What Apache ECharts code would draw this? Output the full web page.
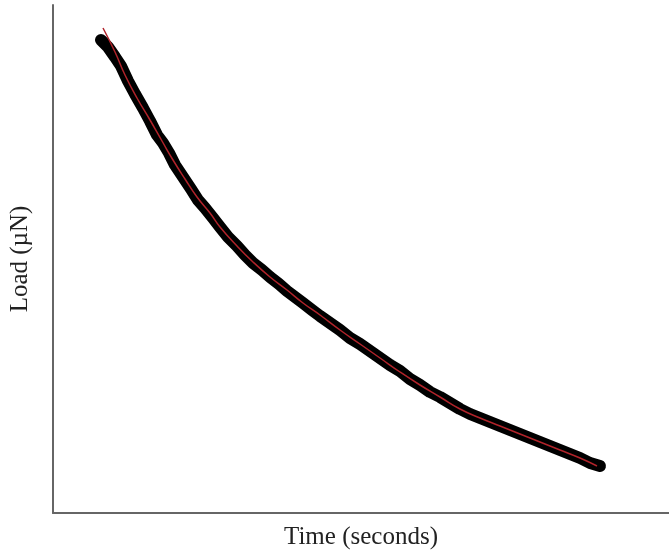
<!DOCTYPE html>
<html>
<head>
<meta charset="utf-8">
<script src="https://cdn.jsdelivr.net/npm/echarts@6/dist/echarts.min.js"></script>
<style>html,body{margin:0;padding:0;background:#fff;}#c{width:669px;height:553px;}</style>
</head>
<body>
<div id="c"></div>
<script>
// Arbitrary units (no ticks shown on the original axes)
const xLabel = 'Time (seconds)';
const yLabel = 'Load (µN)';

const measuredTime = [48,55,62,68,75,82,90,97,104,110,116,122,130,138,145,152,160,167,175,184,192,200,209,217,226,234,242,250,259,267,277,287,297,307,317,327,337,347,357,367,377,387,397,407,417,427,437,447,457,467,477,487,497,507,517,527,537,547];
const measuredLoad = [473,466,456,447,432,419,405,392,378,370,360,348,336,324,313,305,295,286,276,267,258,250,243,236,229,222,216,210,203,197,190,183,175,169,162,155,148,142,134,128,121,116,110,104,99,95,91,87,83,79,75,71,67,63,59,55,50,47];

// Fitted curve (red)
const fitTime = [50,62,72,84,97,109,120,132,144,157,167,184,200,217,234,250,267,287,307,327,347,367,387,407,427,447,467,487,507,527,544];
const fitLoad = [485,461,438,415,393,372,353,334,316,300,286,267,251,236,223,210,198,183,169,155,141,128,116,104,95,87,79,71,63,55,47];

const measured = measuredTime.map((t, i) => [t, measuredLoad[i]]);
const fit = fitTime.map((t, i) => [t, fitLoad[i]]);

const chart = echarts.init(document.getElementById('c'));
chart.setOption({
  animation: false,
  backgroundColor: '#fff',
  grid: { left: 53, right: 0, top: 5, bottom: 40, containLabel: false, outerBoundsMode: 'none' },
  xAxis: {
    type: 'value', min: 0, max: 616,
    name: xLabel, nameLocation: 'middle', nameGap: 12,
    nameTextStyle: { fontFamily: 'Liberation Serif', fontSize: 25, color: '#222', verticalAlign: 'top' },
    axisLine: { show: true, lineStyle: { color: '#666', width: 2 } },
    axisTick: { show: false }, axisLabel: { show: false }, splitLine: { show: false }
  },
  yAxis: {
    type: 'value', min: 0, max: 508,
    name: yLabel, nameLocation: 'middle', nameGap: 20, nameRotate: 90,
    nameTextStyle: { fontFamily: 'Liberation Serif', fontSize: 25, color: '#222' },
    axisLine: { show: true, lineStyle: { color: '#666', width: 2 } },
    axisTick: { show: false }, axisLabel: { show: false }, splitLine: { show: false }
  },
  series: [
    {
      type: 'line', data: measured, symbol: 'none', smooth: false,
      lineStyle: { color: '#000', width: 12, cap: 'round', join: 'round' }
    },
    {
      type: 'line', data: fit, symbol: 'none', smooth: true,
      lineStyle: { color: '#b0232a', width: 1.5 }
    }
  ]
});
</script>
</body>
</html>
